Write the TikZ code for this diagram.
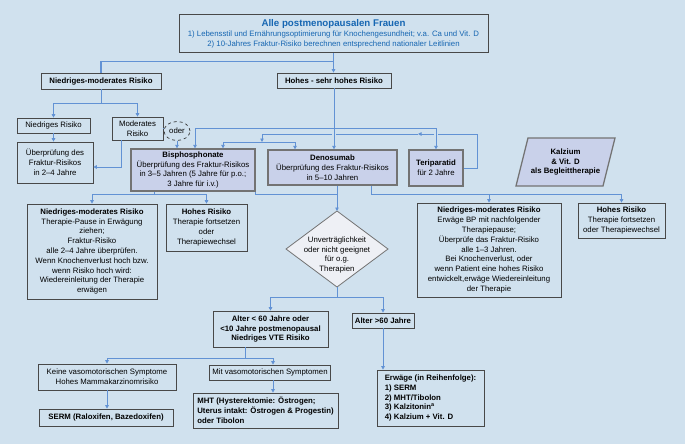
\documentclass[tikz,border=0pt]{standalone}
\usepackage{fontspec}
\setmainfont{Liberation Sans}
\usetikzlibrary{arrows.meta, shapes.geometric}
\definecolor{hinter}{RGB}{208,225,238}
\definecolor{pfeil}{RGB}{98,146,212}
\definecolor{rahmen}{RGB}{72,72,72}
\definecolor{lila}{RGB}{201,209,234}
\definecolor{titel}{RGB}{22,102,178}
\definecolor{raute}{RGB}{238,240,245}

\begin{document}
\begin{tikzpicture}[x=1pt, y=-1pt,
  box/.style={draw=rahmen, line width=0.7pt, inner sep=0pt, align=center, font=\fontsize{7.8}{9.8}\selectfont},
  bbox/.style={box, font=\fontsize{7.8}{9.8}\selectfont\bfseries},
  thbox/.style={box, fill=lila, draw=black!55, line width=1.3pt},
  conn/.style={draw=pfeil, line width=0.8pt, -{Triangle[length=3.5pt,width=3.5pt]}},
  lnk/.style={draw=pfeil, line width=0.8pt},
  hop/.style={draw=hinter, line width=4pt}]
  \fill[hinter] (0,0) rectangle (685,444);
  \useasboundingbox (0,0) rectangle (685,444);

  \node[box, line width=1pt, text=titel, minimum width=309, minimum height=38] (alle) at (333.5,34)
    {{\fontsize{9.7}{11}\selectfont\bfseries Alle postmenopausalen Frauen}\\
     1) Lebensstil und Ernährungsoptimierung für Knochengesundheit; v.a. Ca und Vit. D\\
     2) 10-Jahres Fraktur-Risiko berechnen entsprechend nationaler Leitlinien};
  \node[bbox, minimum width=120, minimum height=16] (nmr) at (101,81) {Niedriges-moderates Risiko};
  \node[bbox, minimum width=114, minimum height=15] (hsr) at (334,80.5) {Hohes - sehr hohes Risiko};

  % niedriges-moderates Risiko
  \node[box, minimum width=73, minimum height=15] (nr) at (53.5,125.5) {Niedriges Risiko};
  \node[box, minimum width=51, minimum height=23] (mr) at (137.5,128.5) {Moderates\\ Risiko};
  \node[box, dashed, draw=black!80, ellipse, minimum width=26, minimum height=19] (oder) at (177,131) {oder};
  \node[box, minimum width=76, minimum height=41] (ue) at (55,162.5) {Überprüfung des\\ Fraktur-Risikos\\ in 2–4 Jahre};

  % Therapien
  \node[thbox, minimum width=124, minimum height=42] (bis) at (193,170)
    {\textbf{Bisphosphonate}\\ Überprüfung des Fraktur-Risikos\\ in 3–5 Jahren (5 Jahre für p.o.;\\ 3 Jahre für i.v.)};
  \node[thbox, minimum width=129, minimum height=35] (deno) at (332.5,167.5)
    {\textbf{Denosumab}\\ Überprüfung des Fraktur-Risikos\\ in 5–10 Jahren};
  \node[thbox, minimum width=54, minimum height=36] (teri) at (436,168) {\textbf{Teriparatid}\\ für 2 Jahre};
  \draw[fill=lila, draw=black!55, line width=1.3pt] (528,138) -- (615,138) -- (603,186) -- (516,186) -- cycle;
  \node[bbox, draw=none] (kalz) at (565.5,162) {Kalzium\\ \& Vit. D\\ als Begleittherapie};

  % Kontrolle nach Therapie
  \node[box, minimum width=130, minimum height=95] (lnmr) at (92,251.5)
    {\textbf{Niedriges-moderates Risiko}\\ Therapie-Pause in Erwägung\\ ziehen;\\ Fraktur-Risiko\\
     alle 2–4 Jahre überprüfen.\\ Wenn Knochenverlust hoch bzw.\\ wenn Risiko hoch wird:\\
     Wiedereinleitung der Therapie\\ erwägen};
  \node[box, minimum width=81, minimum height=47] (lhr) at (206.5,227.5)
    {\textbf{Hohes Risiko}\\ Therapie fortsetzen\\ oder\\ Therapiewechsel};
  \node[box, minimum width=144, minimum height=94] (rnmr) at (489,250)
    {\textbf{Niedriges-moderates Risiko}\\ Erwäge BP mit nachfolgender\\ Therapiepause;\\
     Überprüfe das Fraktur-Risiko\\ alle 1–3 Jahren.\\ Bei Knochenverlust, oder\\
     wenn Patient eine hohes Risiko\\ entwickelt,erwäge Wiedereinleitung\\ der Therapie};
  \node[box, minimum width=87, minimum height=35] (rhr) at (621.5,220.5)
    {\textbf{Hohes Risiko}\\ Therapie fortsetzen\\ oder Therapiewechsel};

  % Raute
  \draw[draw=black!55, fill=raute, line width=0.8pt] (337,211) coordinate (dtop) -- (388,249)
    -- (337,287) coordinate (dbot) -- (286,249) -- cycle;
  \node[box, draw=none, font=\fontsize{7.8}{9.4}\selectfont] (dia) at (337,255)
    {Unverträglichkeit\\ oder nicht geeignet\\ für o.g.\\ Therapien};

  % Alternativen
  \node[bbox, minimum width=115, minimum height=36] (a60) at (270.5,329)
    {Alter < 60 Jahre oder\\ <10 Jahre postmenopausal\\ Niedriges VTE Risiko};
  \node[bbox, minimum width=62, minimum height=15] (ue60) at (383,320.5) {Alter >60 Jahre};
  \node[bbox, align=left, minimum width=107, minimum height=56] (erw) at (430.5,398)
    {Erwäge (in Reihenfolge):\\ 1) SERM\\ 2) MHT/Tibolon\\ 3) Kalzitonin\textsuperscript{a}\\ 4) Kalzium + Vit. D};
  \node[box, minimum width=138, minimum height=26] (keine) at (107,377)
    {Keine vasomotorischen Symptome\\ Hohes Mammakarzinomrisiko};
  \node[bbox, minimum width=134, minimum height=17] (serm) at (106,417.5) {SERM (Raloxifen, Bazedoxifen)};
  \node[box, minimum width=121, minimum height=15] (mit) at (270,372.5) {Mit vasomotorischen Symptomen};
  \node[bbox, align=left, minimum width=145, minimum height=35] (mht) at (265.5,410.5)
    {MHT (Hysterektomie: Östrogen;\\ Uterus intakt: Östrogen \& Progestin)\\ oder Tibolon};

  % Verbindungen oben
  \draw[lnk, line width=1.6pt] (alle.south) -- ++(0,8) -| (nmr.north);
  \draw[conn] (alle.south) -- (alle.south |- hsr.north);
  \draw[lnk] (nmr.south) -- ++(0,14) coordinate (nj);
  \draw[conn] (nj) -| (nr.north);
  \draw[conn] (nj) -| (mr.north);
  \draw[conn] (nr.south) -- (nr.south |- ue.north);
  \draw[conn] ([xshift=-16.5pt]mr.south) |- ([yshift=-4.5pt]ue.east);
  \draw[lnk] (mr.east) -- (mr.east -| oder.west);
  \draw[conn] (oder.south) -- (oder.south |- bis.north);

  % Teriparatid -> Sequenz
  \coordinate (tmid) at (418,134);
  \coordinate (tl) at (262,134);
  \coordinate (tj) at (262,142);
  \draw[conn] (teri.east) -- ++(14,0) |- (tmid);
  \draw[lnk] (tmid) -- (tl);
  \draw[conn] (tl) -- (tj);
  \draw[conn] (tj) -| ([xshift=30pt]bis.north);
  \draw[conn] (tj) -| ([xshift=-37.5pt]deno.north);
  \draw[hop] (334,130.5) -- (334,137.5);
  \draw[hop] (436,130.5) -- (436,137.5);

  \coordinate (hj) at (334,128);
  \draw[conn] (hsr.south) -- (hsr.south |- deno.north);
  \draw[conn] (hj) -| ([xshift=2pt]bis.north);
  \draw[conn] (hj) -| (teri.north);

  % nach Therapie
  \coordinate (bj) at (154,194);
  \draw[lnk] (bis.south -| bj) -- (bj);
  \draw[conn] (bj) -| (lnmr.north);
  \draw[conn] (bj) -| (lhr.north);
  \coordinate (dj) at (337,194);
  \draw[lnk] (bis.south east) |- (dj);
  \draw[conn] ([xshift=4.5pt]deno.south) -- (dtop);
  \coordinate (rj) at (371,194);
  \draw[lnk] ([xshift=38.5pt]deno.south) -- (rj);
  \draw[conn] (rj) -| (rnmr.north);
  \draw[conn] (rj) -| (rhr.north);

  % unten
  \coordinate (uj) at (337,297);
  \draw[lnk] (dbot) -- (uj);
  \draw[conn] (uj) -| (a60.north);
  \draw[conn] (uj) -| (ue60.north);
  \draw[conn] (ue60.south) -- (ue60.south |- erw.north);
  \coordinate (aj) at (245,358);
  \draw[lnk] ([xshift=-25.5pt]a60.south) -- (aj);
  \draw[conn] (aj) -| (keine.north);
  \draw[conn] (aj) -| ([xshift=3pt]mit.north);
  \draw[conn] (keine.south) -- (keine.south |- serm.north);
  \draw[conn] ([xshift=3pt]mit.south) -- ([xshift=3pt]mit.south |- mht.north);
\end{tikzpicture}
\end{document}
